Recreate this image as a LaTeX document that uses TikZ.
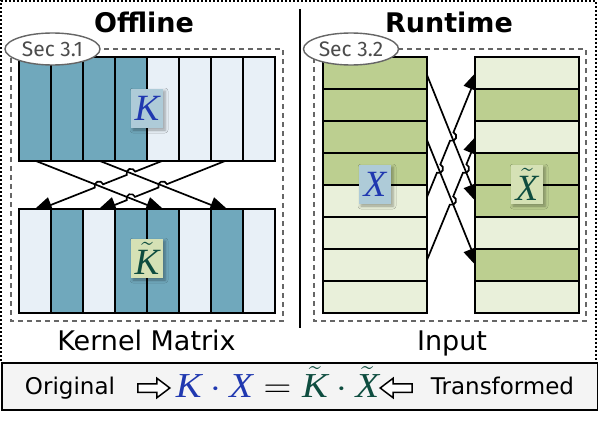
\RequirePackage{fix-cm}
\documentclass[tikz,border=0pt]{standalone}
\usepackage{graphicx}
\usepackage{fontspec}
\setmainfont{DejaVu Sans}
\newfontfamily\secfont{Fira Sans}
\newfontfamily\mtxt{Liberation Serif}
\usetikzlibrary{arrows.meta,calc,shapes.arrows,shapes.geometric,shadows.blur}
\definecolor{kd}{HTML}{70A8BC}
\definecolor{kl}{HTML}{E8F0F7}
\definecolor{gd}{HTML}{BCCF90}
\definecolor{gl}{HTML}{E9F0DA}
\definecolor{bluebox}{HTML}{AECBD8}
\definecolor{greenbox}{HTML}{D5E1B5}
\definecolor{mblue}{HTML}{2038B0}
\definecolor{mgreen}{HTML}{0E4D3F}
\definecolor{boxgray}{HTML}{F4F4F4}
\definecolor{dashgray}{HTML}{666666}
\newcommand\mv[1]{\hbox{\mtxt\itshape #1}}
\newcommand\hopline[4]{%
  \draw[arr] let \p1=($(#2)-(#1)$), \n1={atan2(\y1,\x1)} in
    (#1) -- ($(#3)!4.5pt!(#1)$) arc[start angle=\n1-180, end angle=\n1, radius=4.5pt]
    -- ($(#4)!4.5pt!(#1)$) arc[start angle=\n1-180, end angle=\n1, radius=4.5pt]
    -- (#2);}
\begin{document}
\begin{tikzpicture}[x=1pt,y=-1pt,
  mat/.style={line width=2pt},
  arr/.style={line width=1.7pt,-{Triangle[length=22pt,width=16pt]}},
  dashbox/.style={draw=dashgray,line width=1.8pt,dash pattern=on 5pt off 4pt},
  secell/.style={ellipse,draw=dashgray,line width=1.4pt,fill=white,minimum width=95pt,minimum height=32pt,inner sep=0pt,text=black!70,font=\secfont\fontsize{21}{21}\selectfont},
  lab/.style={minimum width=32pt,minimum height=39pt,inner sep=0pt,blur shadow={shadow xshift=2pt,shadow yshift=-2pt,shadow blur radius=3pt,shadow opacity=35},font=\fontsize{37}{37}\selectfont},
  title/.style={anchor=base,font=\fontsize{27}{27}\selectfont\bfseries},
  captxt/.style={anchor=base,font=\fontsize{27}{27}\selectfont},
  eqtxt/.style={anchor=base,font=\fontsize{23}{23}\selectfont},
  hollow/.style={single arrow,draw,line width=1.5pt,fill=white,minimum height=32pt,inner sep=3.5pt,single arrow head extend=5.5pt,single arrow tip angle=74}
]
\useasboundingbox (0,0) rectangle (598,436);
% outer dotted frame
\draw[line width=2pt,dash pattern=on 2pt off 2pt] (1,361) -- (1,1) -- (596,1) -- (596,361);
% separator
\draw[line width=2pt] (300,9) -- (300,328);
% titles
\node[title] (toff) at (144,33) {Offline};
\node[title] (trun) at (449,33) {Runtime};
% dashed panels
\draw[dashbox] (11,49) rectangle (283,321);
\draw[dashbox] (314,49) rectangle (586,321);
% left permutation arrows (tips hidden under the lower matrix)
\coordinate (a0) at (36,161);  \coordinate (a1) at (167.5,213);
\coordinate (b0) at (100,161); \coordinate (b1) at (231.5,213);
\coordinate (c0) at (162,161); \coordinate (c1) at (30.5,213);
\coordinate (d0) at (225,161); \coordinate (d1) at (94.5,213);
\coordinate (xbc) at (intersection of b0--b1 and c0--c1);
\coordinate (xac) at (intersection of a0--a1 and c0--c1);
\coordinate (xbd) at (intersection of b0--b1 and d0--d1);
\coordinate (xad) at (intersection of a0--a1 and d0--d1);
\draw[arr] (a0) -- (a1);
\draw[arr] (b0) -- (b1);
\hopline{c0}{c1}{xbc}{xac}
\hopline{d0}{d1}{xbd}{xad}
% right permutation arrows (tips hidden under the right matrix)
\coordinate (e0) at (427,75);  \coordinate (e1) at (479.5,205.5);
\coordinate (f0) at (427,140); \coordinate (f1) at (479.5,269.5);
\coordinate (g0) at (427,197); \coordinate (g1) at (479.5,68.5);
\coordinate (h0) at (427,260); \coordinate (h1) at (479.5,132.5);
\coordinate (xfg) at (intersection of f0--f1 and g0--g1);
\coordinate (xeg) at (intersection of e0--e1 and g0--g1);
\coordinate (xfh) at (intersection of f0--f1 and h0--h1);
\coordinate (xeh) at (intersection of e0--e1 and h0--h1);
\draw[arr] (e0) -- (e1);
\draw[arr] (f0) -- (f1);
\hopline{g0}{g1}{xfg}{xeg}
\hopline{h0}{h1}{xfh}{xeh}
% K matrix
\foreach \c [count=\i from 0] in {kd,kd,kd,kd,kl,kl,kl,kl}
  \fill[\c] ({19+32*\i},57) rectangle ++(32,104);
\foreach \i in {1,...,7} \draw[mat] ({19+32*\i},57) -- ++(0,104);
\draw[mat] (19,57) rectangle (275,161);
% K tilde matrix
\foreach \c [count=\i from 0] in {kl,kd,kl,kd,kd,kl,kd,kl}
  \fill[\c] ({19+32*\i},209) rectangle ++(32,104);
\foreach \i in {1,...,7} \draw[mat] ({19+32*\i},209) -- ++(0,104);
\draw[mat] (19,209) rectangle (275,313);
% X matrix
\foreach \c [count=\i from 0] in {gd,gd,gd,gd,gl,gl,gl,gl}
  \fill[\c] (323,{57+32*\i}) rectangle ++(104,32);
\foreach \i in {1,...,7} \draw[mat] (323,{57+32*\i}) -- ++(104,0);
\draw[mat] (323,57) rectangle (427,313);
% X tilde matrix
\foreach \c [count=\i from 0] in {gl,gd,gl,gd,gd,gl,gd,gl}
  \fill[\c] (475,{57+32*\i}) rectangle ++(104,32);
\foreach \i in {1,...,7} \draw[mat] (475,{57+32*\i}) -- ++(104,0);
\draw[mat] (475,57) rectangle (579,313);
% labels
\node[lab,fill=bluebox,text=mblue] (K) at (147,108.5) {$\mv{K}$};
\node[lab,fill=greenbox,text=mgreen] (Kt) at (147,258.5) {$\tilde{\mv{K}}$};
\node[lab,fill=bluebox,text=mblue] (X) at (375,184.5) {$\mv{X}$};
\node[lab,fill=greenbox,text=mgreen] (Xt) at (527,184.5) {$\tilde{\mv{X}}$};
% section ellipses
\node[secell] (s1) at (52.5,49) {Sec 3.1};
\node[secell] (s2) at (351,49) {Sec 3.2};
% captions
\node[captxt] (ckm) at (146.5,350) {Kernel Matrix};
\node[captxt] (cin) at (452,350) {Input};
% equation box
\node[draw,line width=2pt,fill=boxgray,minimum width=596pt,minimum height=47pt,inner sep=0pt,anchor=north west] (eqbox) at (1,362) {};
\node[eqtxt] (orig) at (70,394) {Original};
\node[eqtxt] (trans) at (502.5,394) {Transformed};
\node[hollow] (ar1) at (151,388) {};
\node[hollow,shape border rotate=180] (ar2) at (399,388) {};
\node[anchor=base,font=\fontsize{35}{35}\selectfont,inner sep=0pt] (eq) at (277.5,397)
  {\scalebox{1.1}[1]{$\color{mblue}\mv{K}\cdot\mv{X}\color{black}=\color{mgreen}\tilde{\mv{K}}\cdot\tilde{\mv{X}}$}};
\end{tikzpicture}
\end{document}
